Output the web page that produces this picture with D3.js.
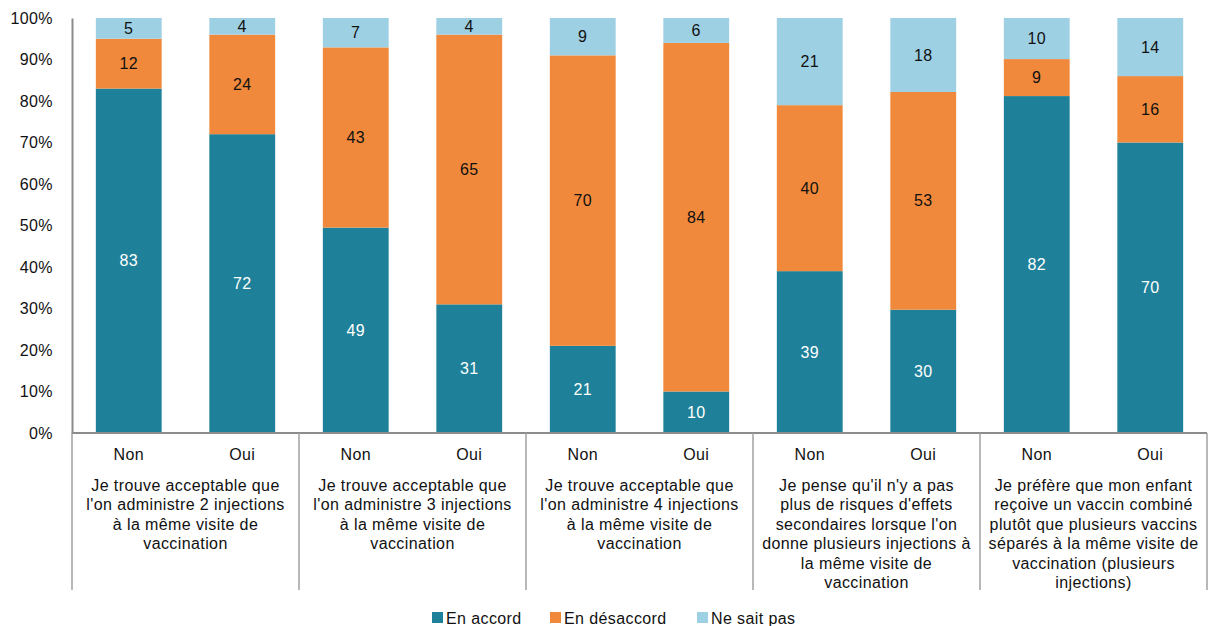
<!DOCTYPE html>
<html>
<head>
<meta charset="utf-8">
<script src="https://cdn.jsdelivr.net/npm/d3@7"></script>
<style>
  body { margin: 0; background: #fff; }
  text { font-family: "Liberation Sans", Arial, sans-serif; letter-spacing: 0.4px; }
</style>
</head>
<body>
<div id="chart"></div>
<script>
// data
var groups = [
  ["Je trouve acceptable que", "l'on administre 2 injections", "à la même visite de", "vaccination"],
  ["Je trouve acceptable que", "l'on administre 3 injections", "à la même visite de", "vaccination"],
  ["Je trouve acceptable que", "l'on administre 4 injections", "à la même visite de", "vaccination"],
  ["Je pense qu'il n'y a pas", "plus de risques d'effets", "secondaires lorsque l'on", "donne plusieurs injections à", "la même visite de", "vaccination"],
  ["Je préfère que mon enfant", "reçoive un vaccin combiné", "plutôt que plusieurs vaccins", "séparés à la même visite de", "vaccination (plusieurs", "injections)"]
];
var answers = ["Non", "Oui"];
var seriesNames = ["En accord", "En désaccord", "Ne sait pas"];
var enAccord    = [83, 72, 49, 31, 21, 10, 39, 30, 82, 70];
var enDesaccord = [12, 24, 43, 65, 70, 84, 40, 53,  9, 16];
var neSaitPas   = [ 5,  4,  7,  4,  9,  6, 21, 18, 10, 14];
var yTicks = [0, 10, 20, 30, 40, 50, 60, 70, 80, 90, 100];

var colors = ["#1f8199", "#f0893b", "#9ed0e4"];
var labelColors = ["#ffffff", "#111111", "#111111"];

var width = 1214, height = 626;
var margin = { left: 72, right: 7, top: 18 };
var axisY = 433;
var fs = 16;

var svg = d3.select("#chart").append("svg")
    .attr("width", width)
    .attr("height", height);

// bar rows
var rows = [];
groups.forEach(function (g, gi) {
  answers.forEach(function (a, ai) {
    var i = gi * 2 + ai;
    rows.push({ id: i, group: gi, answer: a,
      vals: [enAccord[i], enDesaccord[i], neSaitPas[i]] });
  });
});

var x = d3.scaleBand()
    .domain(rows.map(function (d) { return d.id; }))
    .range([margin.left, width - margin.right])
    .paddingInner(0.42)
    .paddingOuter(0.21);

var xg = d3.scaleBand()
    .domain(d3.range(groups.length))
    .range([margin.left, width - margin.right]);

var y = d3.scaleLinear().domain([0, 100]).range([axisY, margin.top]);

// stacked (100%) bars
rows.forEach(function (d) {
  var total = d3.sum(d.vals);
  var acc = 0;
  d.vals.forEach(function (v, k) {
    var y0 = acc / total * 100;
    acc += v;
    var y1 = acc / total * 100;
    svg.append("rect")
      .attr("x", x(d.id))
      .attr("width", x.bandwidth())
      .attr("y", y(y1))
      .attr("height", y(y0) - y(y1))
      .attr("fill", colors[k]);
    svg.append("text")
      .attr("x", x(d.id) + x.bandwidth() / 2)
      .attr("y", (y(y0) + y(y1)) / 2)
      .attr("dy", "0.35em")
      .attr("text-anchor", "middle")
      .attr("font-size", fs)
      .attr("fill", labelColors[k])
      .text(v);
  });
});

// y axis
var yAxis = d3.axisLeft(y)
    .tickValues(yTicks)
    .tickSize(0)
    .tickPadding(19)
    .tickFormat(function (d) { return d + "%"; });

var gy = svg.append("g")
    .attr("transform", "translate(" + margin.left + ",0)")
    .call(yAxis);
gy.select(".domain").attr("stroke", "#8c8c8c").attr("stroke-width", 2);
gy.selectAll("text").attr("font-size", fs).attr("fill", "#111")
  .style("font-family", "'Liberation Sans', Arial, sans-serif");

// x axis line
svg.append("line")
  .attr("x1", margin.left).attr("x2", width - margin.right)
  .attr("y1", axisY).attr("y2", axisY)
  .attr("stroke", "#8c8c8c").attr("stroke-width", 2);

// group separators
var sepBottom = 590;
d3.range(groups.length + 1).forEach(function (i) {
  var sx = i < groups.length ? xg(i) : xg(groups.length - 1) + xg.bandwidth();
  svg.append("line")
    .attr("x1", sx).attr("x2", sx)
    .attr("y1", axisY).attr("y2", sepBottom)
    .attr("stroke", "#a0a0a0").attr("stroke-width", 1.5);
});

// Non / Oui labels
svg.selectAll(".ans")
  .data(rows)
  .enter().append("text")
  .attr("x", function (d) { return x(d.id) + x.bandwidth() / 2; })
  .attr("y", 454)
  .attr("dy", "0.35em")
  .attr("text-anchor", "middle")
  .attr("font-size", fs)
  .attr("fill", "#111")
  .text(function (d) { return d.answer; });

// group labels
groups.forEach(function (lines, gi) {
  var t = svg.append("text")
    .attr("text-anchor", "middle")
    .attr("font-size", fs)
    .attr("fill", "#111");
  lines.forEach(function (ln, li) {
    t.append("tspan")
      .attr("x", xg(gi) + xg.bandwidth() / 2)
      .attr("y", 485 + li * 19.5)
      .attr("dy", "0.35em")
      .text(ln);
  });
});

// legend
var legX = [432, 550, 697];
seriesNames.forEach(function (n, k) {
  svg.append("rect")
    .attr("x", legX[k]).attr("y", 612)
    .attr("width", 11).attr("height", 11)
    .attr("fill", colors[k]);
  svg.append("text")
    .attr("x", legX[k] + 14).attr("y", 618)
    .attr("dy", "0.35em")
    .attr("font-size", fs)
    .attr("fill", "#111")
    .text(n);
});
</script>
</body>
</html>
